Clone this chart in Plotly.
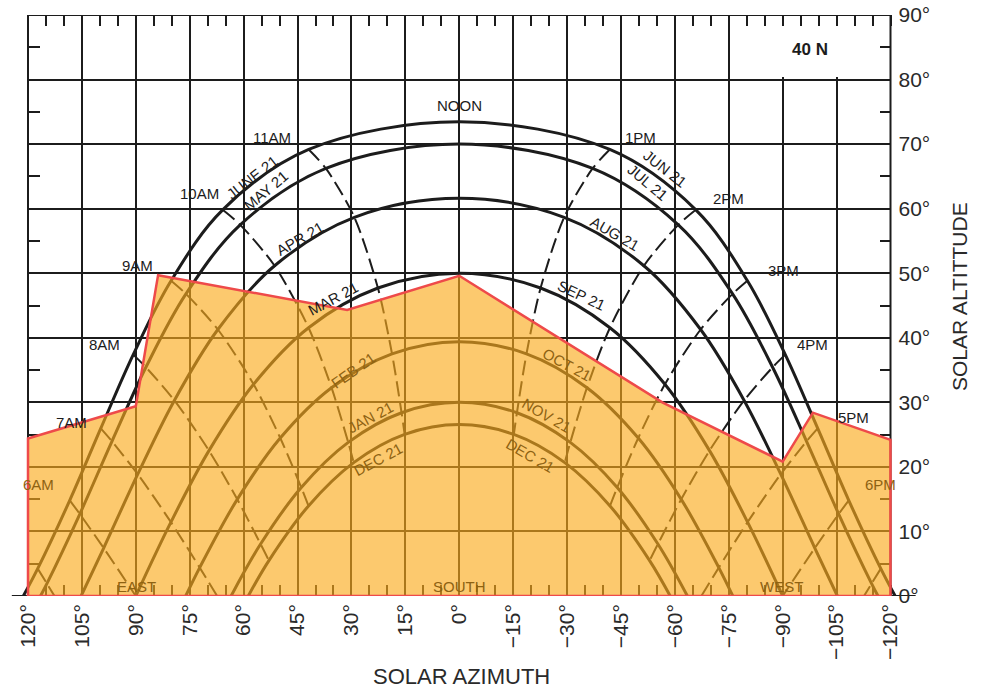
import plotly.graph_objects as go

# Sun path diagram, latitude 40 N.
# Azimuth in degrees from south (east positive), altitude in degrees.
jun21_az = [121.30, 117.30, 108.38, 99.75, 90.72, 80.19, 65.83, 41.89, 0.0,
            -41.89, -65.83, -80.19, -90.72, -99.75, -108.38, -117.30, -121.30]
jun21_alt = [0.0, 4.24, 14.82, 25.96, 37.39, 48.83, 59.82, 69.17, 73.45,
             69.17, 59.82, 48.83, 37.39, 25.96, 14.82, 4.24, 0.0]
may21_az = [116.52, 114.74, 105.58, 96.64, 87.19, 76.05, 60.95, 37.11, 0.0,
            -37.11, -60.95, -76.05, -87.19, -96.64, -105.58, -114.74, -116.52]
may21_alt = [0.0, 1.92, 12.70, 23.96, 35.43, 46.79, 57.49, 66.23, 70.00,
             66.23, 57.49, 46.79, 35.43, 23.96, 12.70, 1.92, 0.0]
apr21_az = [105.22, 98.94, 89.46, 79.27, 67.17, 51.38, 29.18, 0.0,
            -29.18, -51.38, -67.17, -79.27, -89.46, -98.94, -105.22]
apr21_alt = [0.0, 7.43, 18.87, 30.30, 41.28, 51.16, 58.66, 61.60,
             58.66, 51.16, 41.28, 30.30, 18.87, 7.43, 0.0]
mar21_az = [90.0, 80.23, 69.64, 57.23, 41.93, 22.63, 0.0,
            -22.63, -41.93, -57.23, -69.64, -80.23, -90.0]
mar21_alt = [0.0, 11.44, 22.52, 32.80, 41.56, 47.71, 50.00,
             47.71, 41.56, 32.80, 22.52, 11.44, 0.0]
feb21_az = [76.11, 72.22, 61.77, 49.81, 35.54, 18.71, 0.0,
            -18.71, -35.54, -49.81, -61.77, -72.22, -76.11]
feb21_alt = [0.0, 4.40, 14.97, 24.47, 32.27, 37.52, 39.40,
             37.52, 32.27, 24.47, 14.97, 4.40, 0.0]
jan21_az = [63.48, 55.28, 43.96, 30.90, 16.05, 0.0,
            -16.05, -30.90, -43.96, -55.28, -63.48]
jan21_alt = [0.0, 8.05, 16.81, 23.80, 28.39, 30.00,
             28.39, 23.80, 16.81, 8.05, 0.0]
dec21_az = [58.70, 52.97, 41.95, 29.37, 15.19, 0.0,
            -15.19, -29.37, -41.95, -52.97, -58.70]
dec21_alt = [0.0, 5.49, 13.95, 20.66, 25.03, 26.55,
             25.03, 20.66, 13.95, 5.49, 0.0]

# Hour lines (June 21 down to December 21 or the horizon)
am5_az, am5_alt = [117.30, 114.74, 112.63], [4.24, 1.92, 0.0]
am6_az, am6_alt = [108.38, 105.58, 98.94, 90.0], [14.82, 12.70, 7.43, 0.0]
am7_az = [99.75, 96.64, 89.46, 80.23, 72.22, 67.37]
am7_alt = [25.96, 23.96, 18.87, 11.44, 4.40, 0.0]
am8_az = [90.72, 87.19, 79.27, 69.64, 61.77, 55.28, 52.97]
am8_alt = [37.39, 35.43, 30.30, 22.52, 14.97, 8.05, 5.49]
am9_az = [80.19, 76.05, 67.17, 57.23, 49.81, 43.96, 41.95]
am9_alt = [48.83, 46.79, 41.28, 32.80, 24.47, 16.81, 13.95]
am10_az = [65.83, 60.95, 51.38, 41.93, 35.54, 30.90, 29.37]
am10_alt = [59.82, 57.49, 51.16, 41.56, 32.27, 23.80, 20.66]
am11_az = [41.89, 37.11, 29.18, 22.63, 18.71, 16.05, 15.19]
am11_alt = [69.17, 66.23, 58.66, 47.71, 37.52, 28.39, 25.03]
pm1_az = [-41.89, -37.11, -29.18, -22.63, -18.71, -16.05, -15.19]
pm1_alt = [69.17, 66.23, 58.66, 47.71, 37.52, 28.39, 25.03]
pm2_az = [-65.83, -60.95, -51.38, -41.93, -35.54, -30.90, -29.37]
pm2_alt = [59.82, 57.49, 51.16, 41.56, 32.27, 23.80, 20.66]
pm3_az = [-80.19, -76.05, -67.17, -57.23, -49.81, -43.96, -41.95]
pm3_alt = [48.83, 46.79, 41.28, 32.80, 24.47, 16.81, 13.95]
pm4_az = [-90.72, -87.19, -79.27, -69.64, -61.77, -55.28, -52.97]
pm4_alt = [37.39, 35.43, 30.30, 22.52, 14.97, 8.05, 5.49]
pm5_az = [-99.75, -96.64, -89.46, -80.23, -72.22, -67.37]
pm5_alt = [25.96, 23.96, 18.87, 11.44, 4.40, 0.0]
pm6_az, pm6_alt = [-108.38, -105.58, -98.94, -90.0], [14.82, 12.70, 7.43, 0.0]
pm7_az, pm7_alt = [-117.30, -114.74, -112.63], [4.24, 1.92, 0.0]

# Obstruction outline (shaded region)
shade_az = [120, 120, 90, 83.8, 31.2, 0, -56.5, -90, -98.4, -120, -120, 120]
shade_alt = [0, 24.4, 29.4, 49.7, 44.3, 49.6, 30.0, 20.8, 28.4, 24.2, 0, 0]

# Axis ticks
x_tick_vals = [120, 105, 90, 75, 60, 45, 30, 15, 0, -15, -30, -45, -60, -75, -90, -105, -120]
x_tick_text = ["120°", "105°", "90°", "75°", "60°", "45°", "30°", "15°", "0°",
               "\u221215°", "\u221230°", "\u221245°", "\u221260°", "\u221275°",
               "\u221290°", "\u2212105°", "\u2212120°"]
x_minor_vals = [115, 110, 100, 95, 85, 80, 70, 65, 55, 50, 40, 35, 25, 20, 10, 5,
                -5, -10, -20, -25, -35, -40, -50, -55, -65, -70, -80, -85, -95, -100, -110, -115]
y_tick_vals = [0, 10, 20, 30, 40, 50, 60, 70, 80, 90]
y_tick_text = ["0°", "10°", "20°", "30°", "40°", "50°", "60°", "70°", "80°", "90°"]
y_minor_vals = [5, 15, 25, 35, 45, 55, 65, 75, 85]

# ---------------------------------------------------------------- geometry
W, H = 982, 692
ML, MR, MT, MB = 10, 62, 15, 96
frame_l_px, frame_r_px = 28.0, 890.5
px_per_deg = (frame_r_px - frame_l_px) / 240.0
x_lo = 120 + (frame_l_px - ML) / px_per_deg
x_hi = -120 - ((W - MR) - frame_r_px) / px_per_deg
plot_w = W - ML - MR
plot_h = H - MT - MB
pos_right = (frame_r_px - ML) / plot_w
pos_left = (frame_l_px - ML) / plot_w

INK = "#1c1c1c"
BROWN = "#8e6212"
FONT = "Liberation Sans, Arial, sans-serif"

fig = go.Figure()

paths = [(jun21_az, jun21_alt), (may21_az, may21_alt), (apr21_az, apr21_alt),
         (mar21_az, mar21_alt), (feb21_az, feb21_alt), (jan21_az, jan21_alt),
         (dec21_az, dec21_alt)]
for az, alt in paths:
    fig.add_trace(go.Scatter(x=az, y=alt, mode="lines",
                             line=dict(color=INK, width=3, shape="spline", smoothing=1.0),
                             hoverinfo="skip", showlegend=False))

hours = [(am5_az, am5_alt), (am6_az, am6_alt), (am7_az, am7_alt), (am8_az, am8_alt),
         (am9_az, am9_alt), (am10_az, am10_alt), (am11_az, am11_alt),
         (pm1_az, pm1_alt), (pm2_az, pm2_alt), (pm3_az, pm3_alt), (pm4_az, pm4_alt),
         (pm5_az, pm5_alt), (pm6_az, pm6_alt), (pm7_az, pm7_alt)]
for az, alt in hours:
    fig.add_trace(go.Scatter(x=az, y=alt, mode="lines",
                             line=dict(color=INK, width=2, dash="15px,6px",
                                       shape="spline", smoothing=0.8),
                             hoverinfo="skip", showlegend=False))

# Translucent shading on the overlay axis so it sits above every line
fig.add_trace(go.Scatter(x=shade_az, y=shade_alt, mode="lines", fill="toself",
                         fillcolor="rgba(250,170,28,0.64)",
                         line=dict(color="#ee4a4a", width=2.5),
                         yaxis="y2", hoverinfo="skip", showlegend=False))

# ---------------------------------------------------------------- shapes
shapes = [
    # blank margins beside the frame (hide gridlines there)
    dict(type="rect", xref="x", yref="y", x0=x_lo + 1, x1=120, y0=0, y1=91,
         fillcolor="white", line=dict(width=0), layer="between"),
    dict(type="rect", xref="x", yref="y", x0=-120, x1=x_hi - 1, y0=0, y1=91,
         fillcolor="white", line=dict(width=0), layer="between"),
    # box behind the latitude label
    dict(type="rect", xref="x", yref="y", x0=-84, x1=-119.5, y0=80.4, y1=89.6,
         fillcolor="white", line=dict(width=0), layer="between"),
    # horizon
    dict(type="line", xref="x", yref="y", x0=124.5, x1=-127.0, y0=0, y1=0,
         line=dict(color=INK, width=2), layer="between"),
    # frame
    dict(type="rect", xref="x", yref="y", x0=120, x1=-120, y0=0, y1=90,
         line=dict(color=INK, width=2), layer="between"),
]

# ---------------------------------------------------------------- labels
labels = [
    ("NOON", 0, 76.0, 0, False), ("11AM", 52.1, 71.0, 0, False),
    ("10AM", 72.4, 62.3, 0, False), ("JUNE 21", 57.7, 64.9, -38, False),
    ("MAY 21", 53.8, 62.8, -40, False), ("APR 21", 44.3, 55.4, -30, False),
    ("MAR 21", 35.1, 46.1, -28, False), ("FEB 21", 29.6, 35.0, -35, True),
    ("JAN 21", 24.8, 27.6, -28, True), ("DEC 21", 22.6, 21.1, -28, True),
    ("SEP 21", -34.1, 46.5, 25, False), ("AUG 21", -43.3, 56.1, 30, False),
    ("OCT 21", -30.0, 35.9, 28, True), ("NOV 21", -24.4, 28.0, 30, True),
    ("DEC 21", -19.7, 21.8, 30, True), ("JUN 21", -57.2, 66.2, 38, False),
    ("JUL 21", -52.5, 64.0, 40, False), ("1PM", -50.3, 71.0, 0, False),
    ("2PM", -75.0, 61.6, 0, False), ("3PM", -90.3, 50.4, 0, False),
    ("4PM", -98.4, 38.9, 0, False), ("5PM", -109.8, 27.7, 0, False),
    ("6PM", -117.3, 17.2, 0, True), ("7AM", 107.8, 26.8, 0, False),
    ("8AM", 98.6, 38.9, 0, False), ("9AM", 89.4, 51.2, 0, False),
    ("6AM", 117.2, 17.2, 0, True), ("EAST", 89.7, 1.5, 0, True),
    ("SOUTH", 0, 1.5, 0, True), ("WEST", -89.8, 1.5, 0, True),
]
annotations = []
for text, ax_, ay_, ang, shaded in labels:
    annotations.append(dict(text=text, x=ax_, y=ay_, xref="x", yref="y",
                            xanchor="center", yanchor="middle",
                            showarrow=False, textangle=ang,
                            font=dict(family=FONT, size=15,
                                      color=BROWN if shaded else INK)))
annotations.append(dict(text="<b>40 N</b>", x=-97.6, y=84.6, xref="x", yref="y",
                        xanchor="center", yanchor="middle",
                        showarrow=False, font=dict(family=FONT, size=17, color=INK)))
annotations.append(dict(text="SOLAR AZIMUTH", xref="paper", yref="paper",
                        x=(461 - ML) / plot_w, y=(H - MB - 676) / plot_h,
                        xanchor="center", yanchor="middle",
                        showarrow=False, font=dict(family=FONT, size=22, color="#2a2a2a")))
annotations.append(dict(text="SOLAR ALTITTUDE", xref="paper", yref="paper",
                        x=(960 - ML) / plot_w, y=(H - MB - 297) / plot_h,
                        xanchor="center", yanchor="middle",
                        textangle=-90, showarrow=False,
                        font=dict(family=FONT, size=21, color="#2a2a2a")))

tick_font = dict(family=FONT, size=21, color="#2a2a2a")
minor_common = dict(ticks="inside", ticklen=11, tickwidth=1.5, tickcolor=INK, showgrid=False)

fig.update_layout(
    width=W, height=H,
    margin=dict(l=ML, r=MR, t=MT, b=MB, autoexpand=False),
    paper_bgcolor="white", plot_bgcolor="white",
    showlegend=False,
    shapes=shapes,
    annotations=annotations,
    xaxis=dict(range=[x_lo, x_hi], tickvals=x_tick_vals, ticktext=x_tick_text,
               tickangle=-90, tickfont=tick_font, ticks="inside", ticklen=11,
               tickwidth=1.5, tickcolor=INK, mirror="ticks", showline=False,
               showgrid=True, gridcolor=INK, gridwidth=1.5, zeroline=False,
               layer="below traces", fixedrange=True, ticklabelstandoff=3,
               minor=dict(tickvals=x_minor_vals, **minor_common)),
    yaxis=dict(range=[0, 90], tickvals=y_tick_vals, ticktext=y_tick_text,
               side="right", anchor="free", position=pos_right,
               tickfont=tick_font, ticks="inside", ticklen=11, tickwidth=1.5,
               tickcolor=INK, showline=False, showgrid=True, gridcolor=INK,
               gridwidth=1.5, zeroline=False, layer="below traces", fixedrange=True,
               ticklabelstandoff=7,
               minor=dict(tickvals=y_minor_vals, **minor_common)),
    yaxis2=dict(range=[0, 90], overlaying="y", side="left", anchor="free",
                position=pos_left, tickvals=y_tick_vals, showticklabels=False,
                ticks="inside", ticklen=11, tickwidth=1.5, tickcolor=INK,
                showline=False, showgrid=False, zeroline=False,
                layer="below traces", fixedrange=True,
                minor=dict(tickvals=y_minor_vals, **minor_common)),
)

fig.write_html("out.html")
